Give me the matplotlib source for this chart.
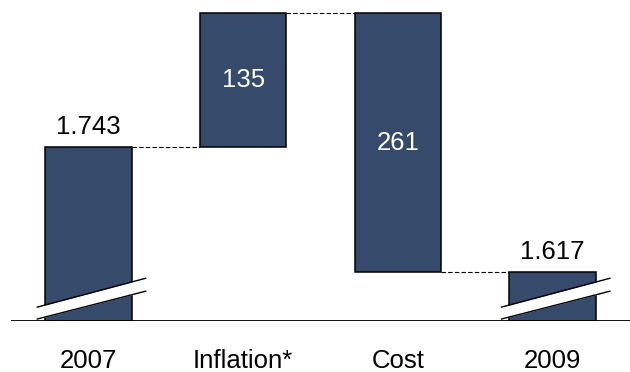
import matplotlib.pyplot as plt
import matplotlib.transforms as mtransforms

plt.rcParams['font.family'] = ['Liberation Sans', 'DejaVu Sans']

# data
categories = ["2007", "Inflation*", "Cost", "2009"]
start_value = 1743
inflation = 135
cost = -261
end_value = 1617
value_labels = ["1.743", "135", "261", "1.617"]

BAR_COLOR = "#364b6b"
BAR_WIDTH = 0.56
Y_MIN = 1568
Y_MAX = 1886
FS = 18.5

fig = plt.figure(figsize=(6.3, 3.72), dpi=100)
ax = fig.add_axes([11 / 630, 51 / 372, 1 - 11 / 630, 316 / 372])

# waterfall bottoms / heights
after_infl = start_value + inflation
after_cost = after_infl + cost
bottoms = [Y_MIN, start_value, after_cost, Y_MIN]
tops = [start_value, after_infl, after_infl, end_value]
x = list(range(len(categories)))

for i in x:
    ax.bar(i, tops[i] - bottoms[i], bottom=bottoms[i], width=BAR_WIDTH,
           color=BAR_COLOR, edgecolor="black", linewidth=1.1, zorder=2)

# dashed connectors
levels = [start_value, after_infl, after_cost]
for i, lvl in enumerate(levels):
    ax.plot([i + BAR_WIDTH / 2, i + 1 - BAR_WIDTH / 2], [lvl, lvl],
            color="black", linewidth=0.8, linestyle=(0, (4, 2)), zorder=1)

# value labels
ax.text(0, start_value + 8, value_labels[0], ha="center", va="bottom", fontsize=FS)
ax.text(3, end_value + 8, value_labels[3], ha="center", va="bottom", fontsize=FS)
ax.text(1, (start_value + after_infl) / 2, value_labels[1], ha="center", va="center",
        fontsize=FS, color="white", zorder=3)
ax.text(2, (after_cost + after_infl) / 2, value_labels[2], ha="center", va="center",
        fontsize=FS, color="white", zorder=3)

# axis break marks on the first and last bar
for i in (0, 3):
    x0 = i - BAR_WIDTH / 2 - 0.05
    x1 = i + BAR_WIDTH / 2 + 0.09
    lo = [Y_MIN + 2, Y_MIN + 30]
    hi = [Y_MIN + 14, Y_MIN + 43]
    ax.fill_between([x0, x1], lo, hi, color="white", zorder=4, linewidth=0)
    ax.plot([x0, x1], lo, color="black", linewidth=1.0, zorder=5)
    ax.plot([x0, x1], hi, color="black", linewidth=1.0, zorder=5)

# baseline
ax.axhline(Y_MIN, color="black", linewidth=1.3, zorder=6)

# category labels
trans = mtransforms.blended_transform_factory(ax.transData, ax.transAxes)
for i, name in enumerate(categories):
    ax.annotate(name, xy=(i, 0), xycoords=trans, xytext=(0, -29),
                textcoords="offset points", ha="center", va="center", fontsize=FS)

ax.set_xlim(-0.5, 3.5)
ax.set_ylim(Y_MIN, Y_MAX)
ax.axis("off")

fig.savefig("out.png", dpi=100)
